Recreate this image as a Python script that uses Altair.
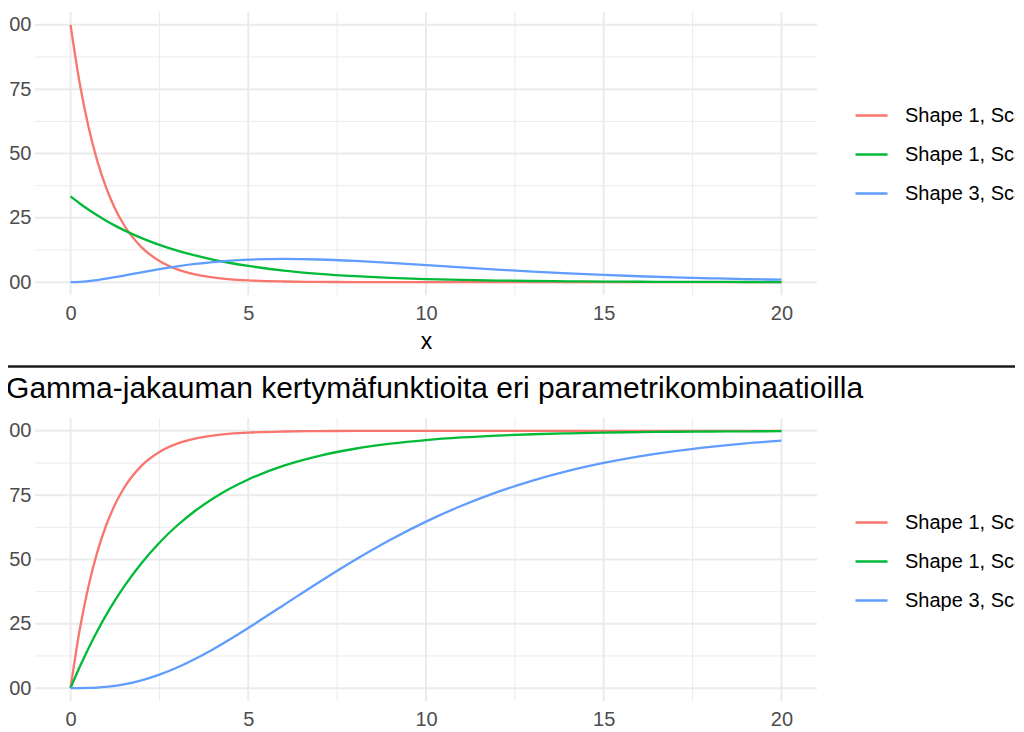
import altair as alt
import pandas as pd

FONT = "Liberation Sans"
GRID = "#EBEBEB"

series_names = ["Shape 1, Scale 1", "Shape 1, Scale 3", "Shape 3, Scale 3"]
series_colors = ["#F8766D", "#00BA38", "#619CFF"]

x_vals = [0, 0.25, 0.5, 0.75, 1, 1.25, 1.5, 2, 2.5, 3, 3.5, 4, 4.5, 5,
          6, 7, 8, 9, 10, 11, 12, 13, 14, 15, 16, 17, 18, 19, 20]

# density values
pdf_red = [1.0, 0.7788, 0.6065, 0.4724, 0.3679, 0.2865, 0.2231, 0.1353, 0.0821, 0.0498,
           0.0302, 0.0183, 0.0111, 0.0067, 0.0025, 0.0009, 0.0003, 0.0001, 0.0, 0.0,
           0.0, 0.0, 0.0, 0.0, 0.0, 0.0, 0.0, 0.0, 0.0]
pdf_green = [0.3333, 0.3067, 0.2822, 0.2596, 0.2388, 0.2197, 0.2022, 0.1711, 0.1449, 0.1226,
             0.1038, 0.0879, 0.0744, 0.0630, 0.0451, 0.0323, 0.0232, 0.0166, 0.0119, 0.0085,
             0.0061, 0.0044, 0.0031, 0.0022, 0.0016, 0.0012, 0.0008, 0.0006, 0.0004]
pdf_blue = [0.0, 0.0011, 0.0039, 0.0081, 0.0133, 0.0191, 0.0253, 0.0380, 0.0503, 0.0613,
            0.0706, 0.0781, 0.0837, 0.0874, 0.0902, 0.0880, 0.0823, 0.0747, 0.0661, 0.0573,
            0.0489, 0.0411, 0.0341, 0.0281, 0.0229, 0.0185, 0.0149, 0.0119, 0.0094]

# cumulative values
cdf_red = [0.0, 0.2212, 0.3935, 0.5276, 0.6321, 0.7135, 0.7769, 0.8647, 0.9179, 0.9502,
           0.9698, 0.9817, 0.9889, 0.9933, 0.9975, 0.9991, 0.9997, 0.9999, 1.0, 1.0,
           1.0, 1.0, 1.0, 1.0, 1.0, 1.0, 1.0, 1.0, 1.0]
cdf_green = [0.0, 0.0800, 0.1535, 0.2212, 0.2835, 0.3408, 0.3935, 0.4866, 0.5654, 0.6321,
             0.6886, 0.7364, 0.7769, 0.8111, 0.8647, 0.9030, 0.9305, 0.9502, 0.9643, 0.9744,
             0.9817, 0.9869, 0.9906, 0.9933, 0.9952, 0.9965, 0.9975, 0.9982, 0.9987]
cdf_blue = [0.0, 0.0001, 0.0007, 0.0022, 0.0048, 0.0089, 0.0144, 0.0302, 0.0523, 0.0803,
            0.1134, 0.1506, 0.1912, 0.2340, 0.3233, 0.4128, 0.4982, 0.5768, 0.6473, 0.7089,
            0.7618, 0.8068, 0.8444, 0.8753, 0.9008, 0.9214, 0.9380, 0.9514, 0.9620]

x_major = [0, 5, 10, 15, 20]
x_minor = [2.5, 7.5, 12.5, 17.5]
y_major = [0, 0.25, 0.5, 0.75, 1.0]
y_minor = [0.125, 0.375, 0.625, 0.875]

bottom_title = "Gamma-jakauman kertymäfunktioita eri parametrikombinaatioilla"


def long_df(a, b, c):
    rows = []
    for name, vals in zip(series_names, [a, b, c]):
        for xv, yv in zip(x_vals, vals):
            rows.append({"x": xv, "y": yv, "series": name})
    return pd.DataFrame(rows)


xscale = alt.Scale(domain=[-1, 21], nice=False, zero=False)
yscale = alt.Scale(domain=[-0.05, 1.05], nice=False, zero=False)

xaxis = alt.Axis(values=x_major, format="d", grid=False, domain=False, ticks=False,
                 tickSize=0, labelPadding=8, labelFontSize=20, labelColor="#4D4D4D",
                 labelFont=FONT, labelFlush=False, title="x", titleFont=FONT,
                 titleFontSize=23, titleFontWeight="normal", titleColor="black",
                 titlePadding=7)
yaxis = alt.Axis(values=y_major, format=".2f", grid=False, domain=False, ticks=False,
                 tickSize=0, labelPadding=4, labelFontSize=20, labelColor="#4D4D4D",
                 labelFont=FONT, title=None)


def panel(df, legend_y):
    X = alt.X("x:Q", scale=xscale, axis=xaxis)
    Y = alt.Y("y:Q", scale=yscale, axis=yaxis)
    vmin = alt.Chart(pd.DataFrame({"x": x_minor})).mark_rule(
        color=GRID, strokeWidth=1).encode(x=X)
    vmaj = alt.Chart(pd.DataFrame({"x": x_major})).mark_rule(
        color=GRID, strokeWidth=2).encode(x=X)
    hmin = alt.Chart(pd.DataFrame({"y": y_minor})).mark_rule(
        color=GRID, strokeWidth=1).encode(y=Y)
    hmaj = alt.Chart(pd.DataFrame({"y": y_major})).mark_rule(
        color=GRID, strokeWidth=2).encode(y=Y)
    lines = alt.Chart(df).mark_line(strokeWidth=2.3, interpolate="monotone").encode(
        x=X,
        y=Y,
        color=alt.Color("series:N",
                        scale=alt.Scale(domain=series_names, range=series_colors),
                        legend=alt.Legend(orient="none", legendX=819, legendY=legend_y,
                                          title=None, symbolType="stroke",
                                          symbolSize=1024, symbolStrokeWidth=2.5,
                                          labelFontSize=20, labelFont=FONT,
                                          labelColor="black", labelOffset=16,
                                          rowPadding=11, padding=0, labelLimit=400)),
    )
    return alt.layer(vmin, vmaj, hmin, hmaj, lines).properties(width=782, height=283)


top = panel(long_df(pdf_red, pdf_green, pdf_blue), 86)
bottom = panel(long_df(cdf_red, cdf_green, cdf_blue), 87).properties(
    title=alt.TitleParams(text=bottom_title, anchor="start", frame="bounds", fontSize=30,
                          font=FONT, fontWeight="normal", color="black", dx=14,
                          offset=-11, baseline="alphabetic"))

divider = alt.Chart(pd.DataFrame({"d": [0]})).mark_rule(
    color="#1A1A1A", strokeWidth=2.5).encode(
    x=alt.value(-60), x2=alt.value(1040), y=alt.value(13.5)).properties(width=1000, height=21)

chart = alt.vconcat(top, divider, bottom, spacing=0).resolve_scale(
    color="independent", x="independent", y="independent").resolve_legend(
    color="independent").properties(
    padding={"left": -35, "top": 3, "right": -62, "bottom": 0},
    background="white").configure_view(strokeWidth=0)

chart.save("out.html", embed_options={"renderer": "svg", "actions": False})
